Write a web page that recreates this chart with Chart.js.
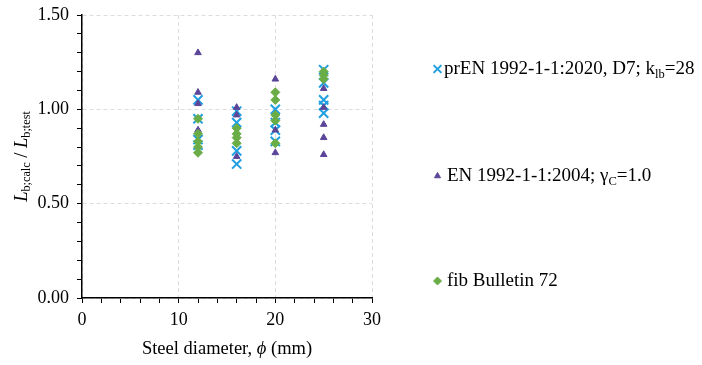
<!DOCTYPE html>
<html>
<head>
<meta charset="utf-8">
<script src="https://cdn.jsdelivr.net/npm/chart.js@4.4.1/dist/chart.umd.min.js"></script>
<style>
  html, body { margin: 0; padding: 0; background: #fff; }
  #wrap { width: 702px; height: 365px; }
</style>
</head>
<body>
<div id="wrap"><canvas id="myChart" width="702" height="365"></canvas></div>
<script>
// bar diameter (mm) and L_b;calc / L_b;test for each series
const prenDia = [12, 12, 12, 12, 16, 16, 16, 16, 20, 20, 20, 20, 25, 25, 25, 25, 25];
const prenRatio = [1.05, 0.95, 0.84, 0.81, 0.99, 0.93, 0.78, 0.71, 1.00, 0.93, 0.89, 0.83, 1.21, 1.14, 1.05, 1.02, 0.98];

const en2004Dia = [12, 12, 12, 12, 16, 16, 16, 20, 20, 20, 25, 25, 25, 25, 25];
const en2004Ratio = [1.30, 1.09, 1.03, 0.89, 1.01, 0.97, 0.75, 1.16, 0.89, 0.77, 1.11, 1.01, 0.92, 0.85, 0.76];

const fibDia = [12, 12, 12, 12, 12, 16, 16, 16, 16, 20, 20, 20, 20, 20, 25, 25, 25];
const fibRatio = [0.95, 0.87, 0.83, 0.80, 0.77, 0.90, 0.87, 0.85, 0.82, 1.09, 1.05, 0.97, 0.94, 0.82, 1.20, 1.18, 1.16];

const seriesNames = ['prEN 1992-1-1:2020, D7; klb=28', 'EN 1992-1-1:2004; γC=1.0', 'fib Bulletin 72'];
const colors = ['#1f9fe0', '#5b4599', '#6aad47'];

const FONT = '"Liberation Serif", "Times New Roman", serif';

const toPoints = (xs, ys) => xs.map((x, i) => ({ x, y: ys[i] }));

// draws a line of text made of parts, some in italic or as a subscript
const drawRich = (ctx, parts, x, y, size, align) => {
  const fontFor = p => `${p.i ? 'italic ' : ''}${p.sub ? size * 0.66 : size}px ${FONT}`;
  let w = 0;
  parts.forEach(p => { ctx.font = fontFor(p); w += ctx.measureText(p.t).width; });
  let cx = align === 'center' ? x - w / 2 : x;
  ctx.textAlign = 'left';
  ctx.textBaseline = 'middle';
  parts.forEach(p => {
    ctx.font = fontFor(p);
    ctx.fillText(p.t, cx, y + (p.sub ? size * 0.28 : 0));
    cx += ctx.measureText(p.t).width;
  });
};

const legendParts = [
  [{ t: 'prEN 1992-1-1:2020, D7; k' }, { t: 'lb', sub: true }, { t: '=28' }],
  [{ t: 'EN 1992-1-1:2004; γ' }, { t: 'C', sub: true }, { t: '=1.0' }],
  [{ t: 'fib Bulletin 72' }]
];
const legendY = [69, 176, 281];
const legendStyles = [
  { pointStyle: 'crossRot', radius: 5.5, borderWidth: 2 },
  { pointStyle: 'triangle', radius: 3.5, borderWidth: 1 },
  { pointStyle: 'rectRot', radius: 4, borderWidth: 1 }
];

const richText = {
  id: 'richText',
  afterDraw(chart) {
    const { ctx, chartArea } = chart;
    ctx.save();
    ctx.fillStyle = '#000';

    // x axis title
    drawRich(ctx, [{ t: 'Steel diameter, ' }, { t: 'ϕ', i: true }, { t: ' (mm)' }],
      (chartArea.left + chartArea.right) / 2, 349, 18.5, 'center');

    // y axis title
    ctx.save();
    ctx.translate(22, (chartArea.top + chartArea.bottom) / 2);
    ctx.rotate(-Math.PI / 2);
    drawRich(ctx, [
      { t: 'L', i: true }, { t: 'b;calc', sub: true }, { t: ' / ' },
      { t: 'L', i: true }, { t: 'b;test', sub: true }
    ], 0, 0, 18.5, 'center');
    ctx.restore();

    // legend
    legendParts.forEach((parts, i) => {
      const st = legendStyles[i];
      ctx.fillStyle = colors[i];
      ctx.strokeStyle = colors[i];
      ctx.lineWidth = st.borderWidth;
      Chart.helpers.drawPoint(ctx, { pointStyle: st.pointStyle, radius: st.radius, rotation: 0, borderWidth: st.borderWidth }, 437.5, legendY[i]);
      ctx.fillStyle = '#000';
      drawRich(ctx, parts, i === 0 ? 444 : 447, legendY[i], 19, 'left');
    });
    ctx.restore();
  }
};

const ctx = document.getElementById('myChart').getContext('2d');

const chart = new Chart(ctx, {
  type: 'scatter',
  data: {
    datasets: [
      {
        label: seriesNames[0],
        data: toPoints(prenDia, prenRatio),
        pointStyle: 'crossRot',
        pointRadius: 6.5,
        borderWidth: 2,
        borderColor: colors[0],
        backgroundColor: colors[0],
        order: 3
      },
      {
        label: seriesNames[1],
        data: toPoints(en2004Dia, en2004Ratio),
        pointStyle: 'triangle',
        pointRadius: 3.8,
        borderWidth: 1,
        borderColor: colors[1],
        backgroundColor: colors[1],
        order: 2
      },
      {
        label: seriesNames[2],
        data: toPoints(fibDia, fibRatio),
        pointStyle: 'rectRot',
        pointRadius: 4.5,
        borderWidth: 1,
        borderColor: colors[2],
        backgroundColor: colors[2],
        order: 1
      }
    ]
  },
  options: {
    responsive: false,
    animation: false,
    layout: { padding: { left: 0, top: 15, right: 330, bottom: 0 } },
    plugins: {
      legend: { display: false },
      tooltip: { enabled: false }
    },
    scales: {
      x: {
        type: 'linear',
        min: 0,
        max: 30,
        afterFit: s => { s.height = 67; },
        ticks: {
          stepSize: 2,
          autoSkip: false,
          maxRotation: 0,
          padding: 6,
          color: '#000',
          font: { family: FONT, size: 18 },
          callback: v => (v % 10 === 0 ? String(v) : '')
        },
        grid: {
          color: c => (c.tick && c.tick.value % 10 === 0 ? '#dcdcdc' : 'rgba(0,0,0,0)'),
          tickColor: '#000',
          tickLength: 5,
          lineWidth: 1
        },
        border: { color: '#000', width: 1.5, dash: [4, 3] }
      },
      y: {
        min: 0,
        max: 1.5,
        afterFit: s => { s.width = 82; s.paddingTop = 0; s.paddingBottom = 0; },
        ticks: {
          stepSize: 0.1,
          autoSkip: false,
          padding: 8,
          color: '#000',
          font: { family: FONT, size: 18 },
          callback: v => (Math.round(v * 10) % 5 === 0 ? v.toFixed(2) : '')
        },
        grid: {
          color: c => (c.tick && Math.round(c.tick.value * 10) % 5 === 0 ? '#dcdcdc' : 'rgba(0,0,0,0)'),
          tickColor: '#000',
          tickLength: 5,
          lineWidth: 1
        },
        border: { color: '#000', width: 1.5, dash: [4, 3] }
      }
    }
  },
  plugins: [richText]
});
</script>
</body>
</html>
